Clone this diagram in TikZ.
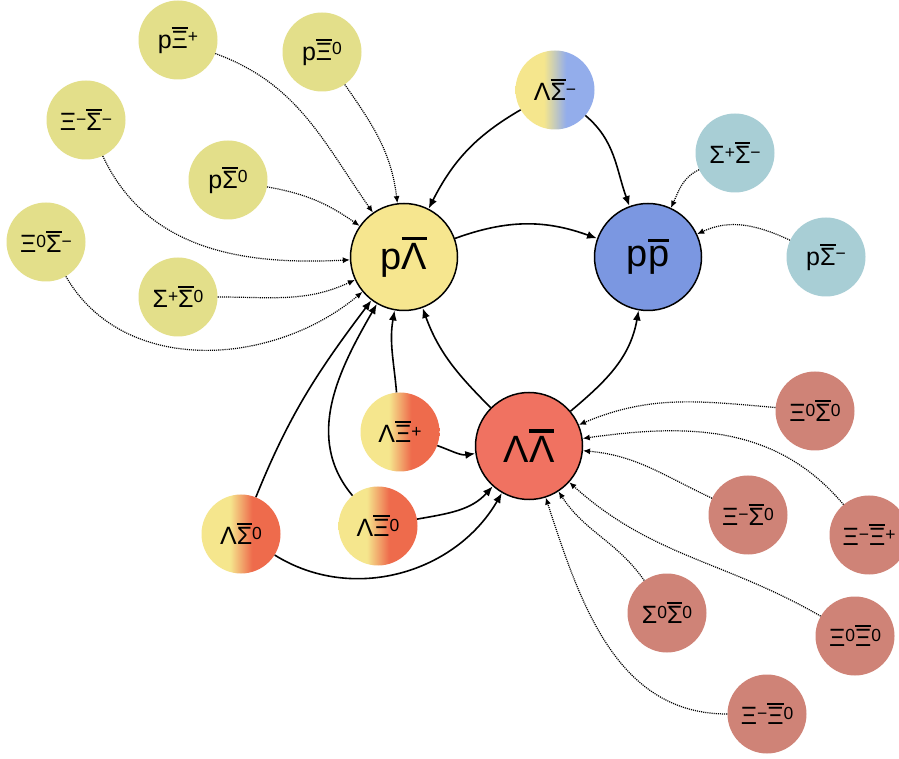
\documentclass[tikz,border=0pt]{standalone}
\usepackage{fontspec}
\usepackage{graphicx}
\setmainfont{Liberation Sans}
\usetikzlibrary{arrows.meta}
\definecolor{smallyel}{HTML}{E3DF8A}
\definecolor{bigyel}{HTML}{F6E68F}
\definecolor{gyel}{HTML}{F5E68D}
\definecolor{gred}{HTML}{EE6B4C}
\definecolor{gblue}{HTML}{93ADEB}
\definecolor{llred}{HTML}{F07261}
\definecolor{ppblue}{HTML}{7B97E1}
\definecolor{tealc}{HTML}{A8CED5}
\definecolor{smallred}{HTML}{CF8377}
\pgfdeclarehorizontalshading{yelred}{100bp}{color(0bp)=(gyel); color(43bp)=(gyel); color(57bp)=(gred); color(100bp)=(gred)}
\pgfdeclarehorizontalshading{yelblue}{100bp}{color(0bp)=(gyel); color(43bp)=(gyel); color(57bp)=(gblue); color(100bp)=(gblue)}
\newcommand\ob[1]{\vbox{\hrule height 0.08em\kern0.1em\hbox{#1}}}
\newcommand\sups[1]{\raisebox{0.22em}{\scalebox{0.7}{#1}}}
\newcommand\bigfont{\fontsize{38}{40}\selectfont}
\newcommand\smallfont{\fontsize{25}{27}\selectfont}
\tikzset{
  bignode/.style={circle, draw=black, line width=1.5pt, minimum size=107pt, inner sep=0pt, font=\bigfont},
  smallnode/.style={circle, minimum size=79pt, inner sep=0pt, font=\smallfont},
  sol/.style={-{Latex[length=10pt,width=8pt]}, line width=1.6pt},
  dotc/.style={-{Latex[length=7pt,width=6pt]}, line width=1.2pt, dash pattern=on 1.1pt off 1pt}
}
\begin{document}
\begin{tikzpicture}[x=1pt,y=1pt]
\fill[white] (0,0) rectangle (899,758);
\useasboundingbox (0,0) rectangle (899,758);
% big nodes
\node[bignode, fill=bigyel] (pL) at (404,501) {p\ob{Λ}};
\node[bignode, fill=ppblue] (pp) at (648,501) {p\ob{p}};
\node[bignode, fill=llred] (LL) at (529,312) {Λ\ob{Λ}};
% yellow small
\node[smallnode, fill=smallyel] (pXp) at (178,718) {p\ob{Ξ}\sups{+}};
\node[smallnode, fill=smallyel] (pX0) at (322,706) {p\ob{Ξ}\sups{0}};
\node[smallnode, fill=smallyel] (XmSm) at (86,638) {Ξ\sups{−}\ob{Σ}\sups{−}};
\node[smallnode, fill=smallyel] (pS0) at (228,578) {p\ob{Σ}\sups{0}};
\node[smallnode, fill=smallyel] (X0Sm) at (46,516) {Ξ\sups{0}\ob{Σ}\sups{−}};
\node[smallnode, fill=smallyel] (SpS0) at (178,461) {Σ\sups{+}\ob{Σ}\sups{0}};
% gradient
\node[smallnode, shading=yelblue] (LSm) at (555,668) {Λ\ob{Σ}\sups{−}};
\node[smallnode, shading=yelred] (LXp) at (400,326) {Λ\ob{Ξ}\sups{+}};
\node[smallnode, shading=yelred] (LX0) at (378,232) {Λ\ob{Ξ}\sups{0}};
\node[smallnode, shading=yelred] (LS0) at (241,224) {Λ\ob{Σ}\sups{0}};
% teal
\node[smallnode, fill=tealc] (SpSm) at (735,605) {Σ\sups{+}\ob{Σ}\sups{−}};
\node[smallnode, fill=tealc] (pSm) at (826,501) {p\ob{Σ}\sups{−}};
% red small
\node[smallnode, fill=smallred] (X0S0) at (815,347) {Ξ\sups{0}\ob{Σ}\sups{0}};
\node[smallnode, fill=smallred] (XmS0) at (748,243) {Ξ\sups{−}\ob{Σ}\sups{0}};
\node[smallnode, fill=smallred] (XmXp) at (869,223) {Ξ\sups{−}\ob{Ξ}\sups{+}};
\node[smallnode, fill=smallred] (S0S0) at (667,145) {Σ\sups{0}\ob{Σ}\sups{0}};
\node[smallnode, fill=smallred] (X0X0) at (855,122) {Ξ\sups{0}\ob{Ξ}\sups{0}};
\node[smallnode, fill=smallred] (XmX0) at (767,44) {Ξ\sups{−}\ob{Ξ}\sups{0}};
% solid edges
\draw[sol] (pL) to[out=20,in=160] (pp);
\draw[sol] (LSm) to[out=210,in=63] (pL);
\draw[sol] (LSm) to[out=-40,in=110] (pp);
\draw[sol] (LL) to[out=135,in=-70] (pL);
\draw[sol] (LL) to[out=40,in=-100] (pp);
\draw[sol] (LXp) to[out=95,in=-100] (pL);
\draw[sol] (LXp) to[out=-20,in=188] (LL);
\draw[sol] (LX0) to[out=130,in=240] (pL);
\draw[sol] (LX0) to[out=10,in=228] (LL);
\draw[sol] (LS0) to[out=68,in=233] (pL);
\draw[sol] (LS0) to[out=-32,in=240] (LL);
% dotted edges
\draw[dotc] (pXp) to[out=-20,in=125] (pL);
\draw[dotc] (pX0) to[out=-55,in=97] (pL);
\draw[dotc] (XmSm) to[out=-65,in=183] (pL);
\draw[dotc] (pS0) to[out=-10,in=145] (pL);
\draw[dotc] (X0Sm) to[out=-60,in=220] (pL);
\draw[dotc] (SpS0) to[out=0,in=205] (pL);
\draw[dotc] (SpSm) to[out=205,in=65] (pp);
\draw[dotc] (pSm) to[out=155,in=25] (pp);
\draw[dotc] (X0S0) to[out=175,in=23] (LL);
\draw[dotc] (XmXp) to[out=130,in=8] (LL);
\draw[dotc] (XmS0) to[out=155,in=-5] (LL);
\draw[dotc] (X0X0) to[out=150,in=-42] (LL);
\draw[dotc] (S0S0) to[out=125,in=-57] (LL);
\draw[dotc] (XmX0) to[out=180,in=-72] (LL);
\end{tikzpicture}
\end{document}
